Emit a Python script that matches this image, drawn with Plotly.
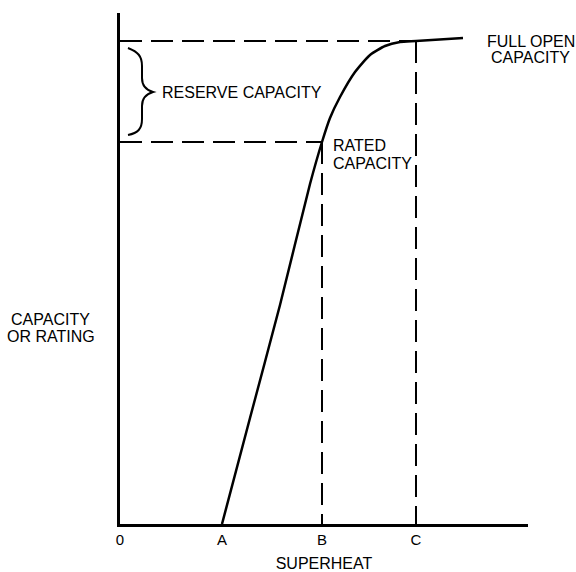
import plotly.graph_objects as go

# Data (arbitrary units: x = superheat, y = capacity)
tick_vals = [0, 102, 202, 296]
tick_text = ["0", "A", "B", "C"]
x_A, x_B, x_C = 102, 202, 296
rated_cap = 382
full_cap = 483

curve_x = [102, 130, 160, 190, 202, 210, 220, 235, 250, 265, 280, 296, 343]
curve_y = [0, 106, 219, 340, 382, 406, 427, 452, 469, 478, 482, 483, 486]

FONT = "Liberation Sans, Arial, sans-serif"
fig = go.Figure()

dash = "22px,9px"
# dashed guides
fig.add_trace(go.Scatter(x=[0, x_C], y=[full_cap, full_cap], mode="lines",
                         line=dict(color="black", width=2, dash=dash), hoverinfo="skip"))
fig.add_trace(go.Scatter(x=[0, x_B], y=[rated_cap, rated_cap], mode="lines",
                         line=dict(color="black", width=2, dash=dash), hoverinfo="skip"))
fig.add_trace(go.Scatter(x=[x_B, x_B], y=[rated_cap, 0], mode="lines",
                         line=dict(color="black", width=2, dash=dash), hoverinfo="skip"))
fig.add_trace(go.Scatter(x=[x_C, x_C], y=[full_cap, 0], mode="lines",
                         line=dict(color="black", width=2, dash=dash), hoverinfo="skip"))
# curve
fig.add_trace(go.Scatter(x=curve_x, y=curve_y, mode="lines",
                         line=dict(color="black", width=2.5, shape="spline", smoothing=0.6),
                         hoverinfo="skip"))

# brace
fig.add_shape(type="path", xref="x", yref="y",
              path="M 8 476 C 18 472, 22 468, 22 458 L 22 446 C 22 438, 26 434, 33 432 "
                   "C 26 430, 22 426, 22 418 L 22 405 C 22 395, 18 391, 8 389",
              line=dict(color="black", width=2))

def label(text, x, y, xref="x", xanchor="left"):
    fig.add_annotation(x=x, y=y, xref=xref, yref="y", text=text, showarrow=False,
                       xanchor=xanchor, yanchor="middle", font=dict(size=16))

label("RESERVE CAPACITY", 40, 432)
label("RATED", 211, 379)
label("CAPACITY", 211, 361)
label("FULL OPEN", 1.007, 483, xref="paper", xanchor="center")
label("CAPACITY", 1.007, 467, xref="paper", xanchor="center")
label("CAPACITY", -0.17, 205, xref="paper", xanchor="center")
label("OR RATING", -0.17, 188, xref="paper", xanchor="center")

fig.update_layout(
    width=576, height=572,
    margin=dict(l=120, r=48, t=13, b=48),
    paper_bgcolor="white", plot_bgcolor="white",
    showlegend=False,
    font=dict(family=FONT, color="black", size=16),
    xaxis=dict(range=[0, 408], showgrid=False, zeroline=False, showline=True,
               linecolor="black", linewidth=3, tickvals=tick_vals, ticktext=tick_text,
               tickfont=dict(size=15), ticks="", automargin=False,
               title=dict(text="SUPERHEAT", standoff=12, font=dict(size=16))),
    yaxis=dict(range=[0, 511], showgrid=False, zeroline=False, showline=True,
               linecolor="black", linewidth=3, showticklabels=False, ticks="",
               automargin=False),
)

fig.write_html("out.html",
               config={"displayModeBar": False, "responsive": False},
               post_script="document.body.style.margin='0';document.body.style.overflow='hidden';")
